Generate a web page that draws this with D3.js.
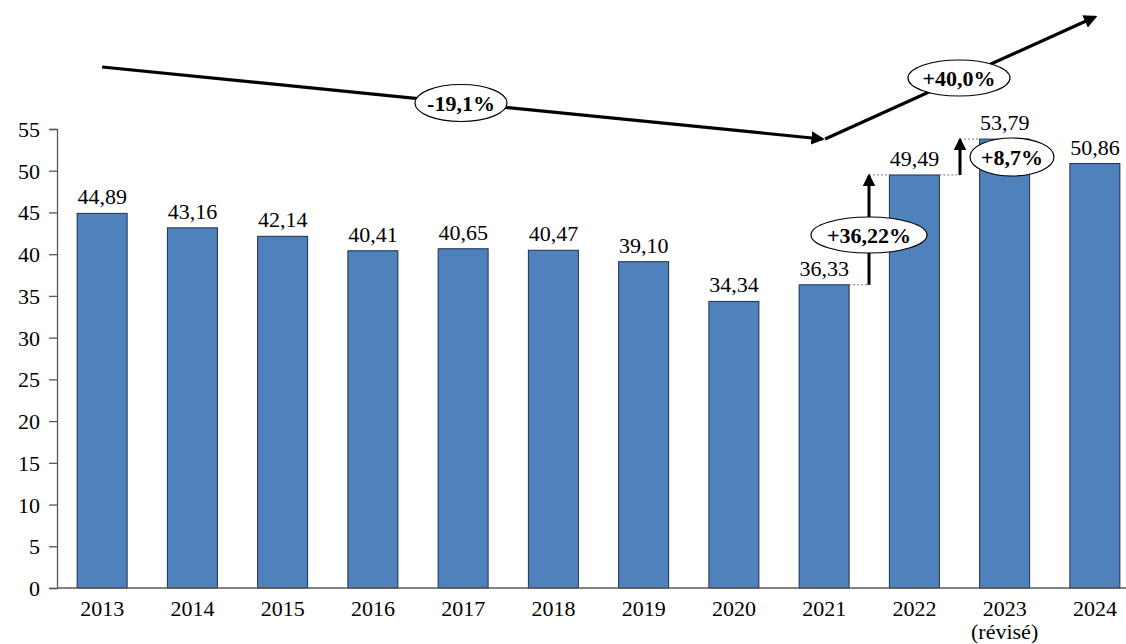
<!DOCTYPE html>
<html>
<head>
<meta charset="utf-8">
<script src="https://cdn.jsdelivr.net/npm/d3@7"></script>
<style>
  html, body { margin: 0; padding: 0; background: #fff; }
  svg { display: block; }
  text { font-family: "Liberation Serif", "Times New Roman", serif; fill: #000; }
</style>
</head>
<body>
<svg id="chart" width="1126" height="644"></svg>
<script>
// Years and annual values
const years = ["2013", "2014", "2015", "2016", "2017", "2018", "2019", "2020", "2021", "2022", "2023", "2024"];
const values = [44.89, 43.16, 42.14, 40.41, 40.65, 40.47, 39.10, 34.34, 36.33, 49.49, 53.79, 50.86];
const yTicks = [0, 5, 10, 15, 20, 25, 30, 35, 40, 45, 50, 55];
const yearNotes = { "2023": "(révisé)" };

// Change annotations
const trendLabels = ["-19,1%", "+40,0%"];
const stepChanges = [
  { from: "2021", to: "2022", label: "+36,22%" },
  { from: "2022", to: "2023", label: "+8,7%" }
];

const fmt = v => v.toFixed(2).replace(".", ",");

const svg = d3.select("#chart");
const margin = { left: 57, right: 1140, top: 129, bottom: 588 };

const x = d3.scaleBand().domain(years).range([margin.left, margin.right]).paddingInner(0.446).paddingOuter(0.223);
const y = d3.scaleLinear().domain([0, 55]).range([margin.bottom, margin.top]);

svg.append("defs").append("marker")
  .attr("id", "head").attr("viewBox", "0 0 10 10").attr("refX", 8).attr("refY", 5)
  .attr("markerWidth", 4.2).attr("markerHeight", 4.2).attr("orient", "auto")
  .append("path").attr("d", "M0,0 L10,5 L0,10 Z").attr("fill", "#000");

// Y axis
const yAxis = svg.append("g").attr("transform", `translate(${margin.left},0)`)
  .call(d3.axisLeft(y).tickValues(yTicks).tickSize(8).tickPadding(9).tickFormat(d3.format("d")));
yAxis.select(".domain").attr("stroke", "#595959").attr("stroke-width", 1.3);
yAxis.selectAll(".tick line").attr("stroke", "#595959").attr("stroke-width", 1.3);
yAxis.selectAll(".tick text").style("font-family", "'Liberation Serif', serif").style("font-size", "22px").attr("fill", "#000").attr("dy", "0.34em");

// Bars
svg.append("g").selectAll("rect").data(years).join("rect")
  .attr("x", d => x(d)).attr("y", (d, i) => y(values[i]))
  .attr("width", x.bandwidth()).attr("height", (d, i) => y(0) - y(values[i]))
  .attr("fill", "#4F81BD").attr("stroke", "#1E2F4A").attr("stroke-width", 1);

// X axis baseline
svg.append("line").attr("x1", margin.left).attr("x2", margin.right).attr("y1", y(0)).attr("y2", y(0))
  .attr("stroke", "#595959").attr("stroke-width", 1.3);

// Year labels
svg.append("g").selectAll("text").data(years).join("text")
  .attr("x", d => x(d) + x.bandwidth() / 2).attr("y", 616)
  .attr("text-anchor", "middle").style("font-size", "22px").text(d => d);
svg.append("g").selectAll("text").data(Object.keys(yearNotes)).join("text")
  .attr("x", d => x(d) + x.bandwidth() / 2).attr("y", 639)
  .attr("text-anchor", "middle").style("font-size", "22px").text(d => yearNotes[d]);

// Value labels
svg.append("g").selectAll("text").data(years).join("text")
  .attr("x", d => x(d) + x.bandwidth() / 2).attr("y", (d, i) => y(values[i]) - 9)
  .attr("text-anchor", "middle").style("font-size", "22px").text((d, i) => fmt(values[i]));

const cx = d => x(d) + x.bandwidth() / 2;
const val = d => values[years.indexOf(d)];

// Ellipse label helper
function bubble(px, py, rx, ry, label) {
  svg.append("ellipse").attr("cx", px).attr("cy", py).attr("rx", rx).attr("ry", ry)
    .attr("fill", "#fff").attr("stroke", "#000").attr("stroke-width", 1.2);
  svg.append("text").attr("x", px).attr("y", py).attr("dy", "0.35em").attr("text-anchor", "middle")
    .style("font-size", "22px").style("font-weight", "bold").text(label);
}

// Step changes: dashed guides, vertical arrow, bubble
const stepGeom = [
  { ax: 869, bx: 869, by: 235, rx: 58, ry: 18 },
  { ax: 960, bx: 1012, by: 157, rx: 42, ry: 19 }
];
stepChanges.forEach((s, i) => {
  const g = stepGeom[i];
  const y0 = y(val(s.from)), y1 = y(val(s.to));
  svg.append("line").attr("x1", x(s.from) + x.bandwidth()).attr("x2", g.ax).attr("y1", y0).attr("y2", y0)
    .attr("stroke", "#777").attr("stroke-width", 1).attr("stroke-dasharray", "2,2");
  svg.append("line").attr("x1", g.ax).attr("x2", x(s.to)).attr("y1", y1).attr("y2", y1)
    .attr("stroke", "#777").attr("stroke-width", 1).attr("stroke-dasharray", "2,2");
  svg.append("line").attr("x1", g.ax).attr("x2", g.ax).attr("y1", y0).attr("y2", y1 + 1)
    .attr("stroke", "#000").attr("stroke-width", 3).attr("marker-end", "url(#head)");
});

stepChanges.forEach((s, i) => {
  const g = stepGeom[i];
  bubble(g.bx, g.by, g.rx, g.ry, s.label);
});

// Trend arrows
const trend = [
  { x1: cx("2013"), y1: 67, x2: cx("2021") - 2, y2: 139 },
  { x1: cx("2021") + 1, y1: 139, x2: cx("2024"), y2: 17 }
];
trend.forEach(t => {
  svg.append("line").attr("x1", t.x1).attr("y1", t.y1).attr("x2", t.x2).attr("y2", t.y2)
    .attr("stroke", "#000").attr("stroke-width", 3.2).attr("marker-end", "url(#head)");
});
bubble(461, 103, 46, 18.5, trendLabels[0]);
bubble(959, 78, 51, 18, trendLabels[1]);
</script>
</body>
</html>
